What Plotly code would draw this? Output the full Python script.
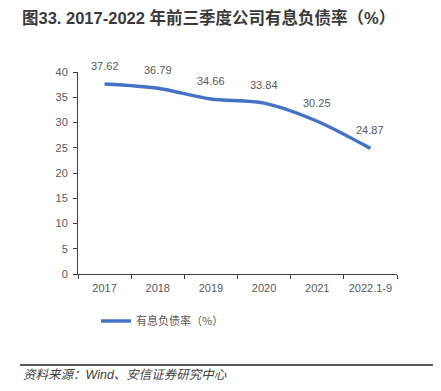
import plotly.graph_objects as go

categories = ["2017", "2018", "2019", "2020", "2021", "2022.1-9"]
values = [37.62, 36.79, 34.66, 33.84, 30.25, 24.87]
y_ticks = [0, 5, 10, 15, 20, 25, 30, 35, 40]
series_name = "有息负债率（%）"
title_text = "图33. 2017-2022 年前三季度公司有息负债率（%）"
source_text = "资料来源：Wind、安信证券研究中心"

# page has an 8px body margin; figure is sized to fit the window
OFF = 8
W, H = 441 - OFF, 391 - OFF
# screen-pixel plot box
SX0, SX1, SY0, SY1 = 78, 397, 72, 274
L, T = SX0 - OFF, SY0 - OFF
R, B = W - (SX1 - OFF), H - (SY1 - OFF)
plot_w = SX1 - SX0
plot_h = SY1 - SY0

def px_x(p):
    return (p - SX0) / plot_w

def px_y(p):
    return (SY1 - p) / plot_h

fig = go.Figure()
fig.add_trace(go.Scatter(
    x=categories, y=values, mode="lines", name=series_name,
    line=dict(color="#4472C4", width=3.5, shape="spline", smoothing=0.8),
    hoverinfo="skip",
))

for i, v in enumerate(values):
    fig.add_annotation(x=i, y=v, text=f"{v:.2f}", showarrow=False,
                       yshift=18, font=dict(size=11, color="#595959",
                                            family="Liberation Sans, Arial, sans-serif"))

fig.add_shape(type="line", xref="paper", yref="paper",
              x0=px_x(20), x1=px_x(436), y0=px_y(365), y1=px_y(365),
              line=dict(color="#595959", width=2))

fig.add_annotation(xref="paper", yref="paper", x=px_x(21), y=px_y(375),
                   xanchor="left", yanchor="middle", showarrow=False,
                   text=source_text,
                   font=dict(size=12.5, color="#404040", style="italic",
                             family="Liberation Sans, Noto Sans CJK SC, sans-serif"))

fig.update_layout(
    width=W, height=H,
    margin=dict(l=L, r=R, t=T, b=B, autoexpand=False),
    paper_bgcolor="white", plot_bgcolor="white",
    title=dict(text="<b>" + title_text + "</b>", x=(22 - OFF) / W, xanchor="left",
               y=1 - (18 - OFF) / H, yanchor="middle",
               font=dict(size=16.5, color="#3a3a3a",
                         family="Liberation Sans, Noto Sans CJK SC, sans-serif")),
    showlegend=True,
    legend=dict(orientation="h", x=px_x(96), xanchor="left", y=px_y(321),
                yanchor="middle", font=dict(size=11, color="#595959",
                                             family="Noto Sans CJK SC, sans-serif"),
                bgcolor="rgba(0,0,0,0)"),
    xaxis=dict(type="category", categoryorder="array", categoryarray=categories,
               range=[-0.5, len(categories) - 0.5], autorange=False,
               showline=True, linecolor="#404040", linewidth=1,
               ticks="outside", tickson="boundaries", ticklen=4, tickcolor="#404040",
               showgrid=False, zeroline=False, tickangle=0, ticklabelstandoff=4,
               tickfont=dict(size=11, color="#595959",
                             family="Liberation Sans, Arial, sans-serif")),
    yaxis=dict(range=[0, 40], tickvals=y_ticks, showline=True, linecolor="#404040",
               linewidth=1, ticks="outside", ticklen=4, tickcolor="#404040",
               showgrid=False, zeroline=False, ticklabelstandoff=3,
               tickfont=dict(size=11, color="#595959",
                             family="Liberation Sans, Arial, sans-serif")),
)

fig.write_html("out.html")
